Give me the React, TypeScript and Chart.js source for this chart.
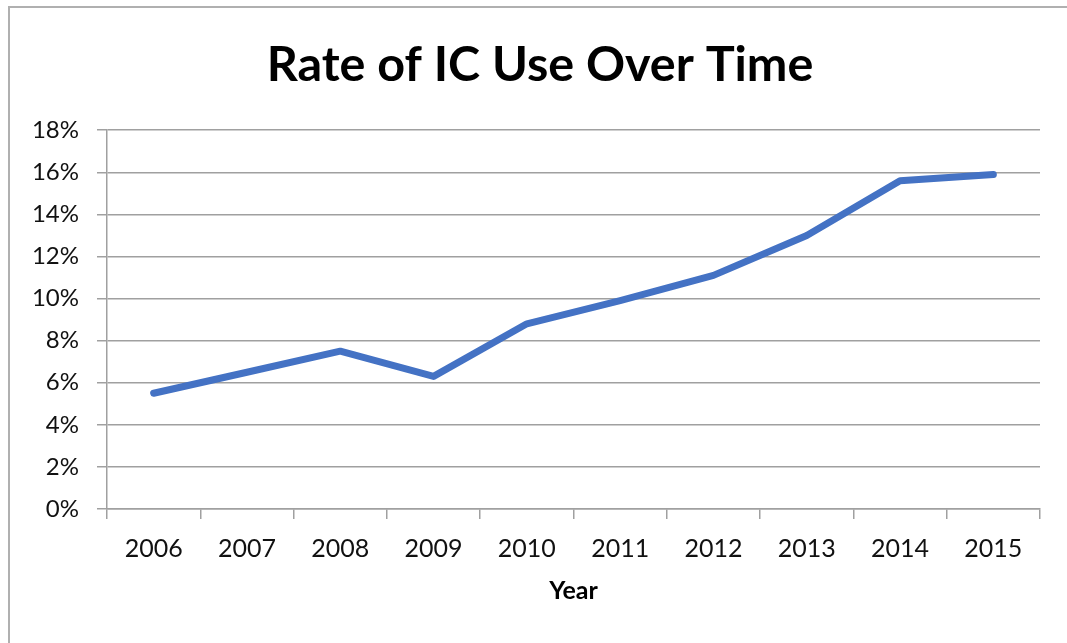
import React, { useEffect, useRef } from "react";
import { Chart, registerables } from "chart.js";

Chart.register(...registerables);

const categories = ["2006", "2007", "2008", "2009", "2010", "2011", "2012", "2013", "2014", "2015"];
const icUseRate = [5.5, 6.5, 7.5, 6.3, 8.8, 9.9, 11.1, 13.0, 15.6, 15.9];
const yTickMax = 18;
const yTickStep = 2;
const titleText = "Rate of IC Use Over Time";
const xAxisTitle = "Year";

export default function App() {
  const canvasRef = useRef<HTMLCanvasElement | null>(null);

  useEffect(() => {
    document.body.style.margin = "0";
    const ctx = canvasRef.current;
    if (!ctx) return;
    const chart = new Chart(ctx, {
      type: "line",
      data: {
        labels: categories,
        datasets: [
          {
            data: icUseRate,
            yAxisID: "y",
            borderColor: "#4472C4",
            backgroundColor: "#4472C4",
            borderWidth: 7,
            pointRadius: 0,
            pointHoverRadius: 0,
            tension: 0,
            borderCapStyle: "round",
            borderJoinStyle: "round",
            fill: false,
          },
        ],
      },
      options: {
        animation: false,
        responsive: false,
        maintainAspectRatio: false,
        layout: { padding: { top: 0, left: 13, right: 0, bottom: 0 } },
        plugins: {
          legend: { display: false },
          tooltip: { enabled: false },
          title: {
            display: true,
            text: titleText,
            color: "#000000",
            font: { family: "Lato", size: 48.5, weight: "bold", lineHeight: 1.2 },
            padding: { top: 36, bottom: 36 },
          },
        },
        scales: {
          x: {
            type: "category",
            offset: true,
            grid: {
              display: true,
              offset: true,
              drawOnChartArea: false,
              drawTicks: true,
              tickLength: 10,
              color: "#a0a0a0",
              lineWidth: 1.5,
            },
            border: { display: true, color: "#a0a0a0", width: 1.5 },
            ticks: {
              color: "#111111",
              font: { family: "Lato", size: 25, lineHeight: 1.2 },
              padding: 15,
              maxRotation: 0,
              autoSkip: false,
            },
            title: {
              display: true,
              text: xAxisTitle,
              color: "#000000",
              font: { family: "Lato", size: 25, weight: "bold", lineHeight: 1.2 },
              padding: { top: 12, bottom: 37 },
            },
            afterFit: (scale: any) => {
              scale.height = 134;
            },
          },
          y: {
            position: "left",
            min: 0,
            max: yTickMax,
            grid: {
              color: "#a0a0a0",
              lineWidth: 1.5,
              drawTicks: true,
              tickLength: 10,
            },
            border: { display: true, color: "#a0a0a0", width: 1.5 },
            ticks: {
              stepSize: yTickStep,
              color: "#111111",
              font: { family: "Lato", size: 24, lineHeight: 1.2 },
              padding: 18,
              callback: (v: any) => `${v}%`,
            },
            afterFit: (scale: any) => {
              scale.width = 94;
            },
          },
          yRightSpace: {
            position: "right",
            display: true,
            grid: { display: false, drawTicks: false },
            border: { display: false },
            ticks: { display: false },
            afterFit: (scale: any) => {
              scale.width = 27;
            },
          },
        },
      },
    });
    return () => chart.destroy();
  }, []);

  return (
    <div style={{ position: "fixed", left: 0, top: 0, width: 1067, height: 643, overflow: "hidden", background: "#fff" }}>
      <div
        style={{
          position: "absolute",
          left: 8,
          top: 6,
          width: 1200,
          height: 800,
          borderTop: "2px solid #b0b0b0",
          borderLeft: "2px solid #b0b0b0",
        }}
      />
      <canvas ref={canvasRef} width={1067} height={643} style={{ position: "absolute", left: 0, top: 0, display: "block" }} />
    </div>
  );
}
